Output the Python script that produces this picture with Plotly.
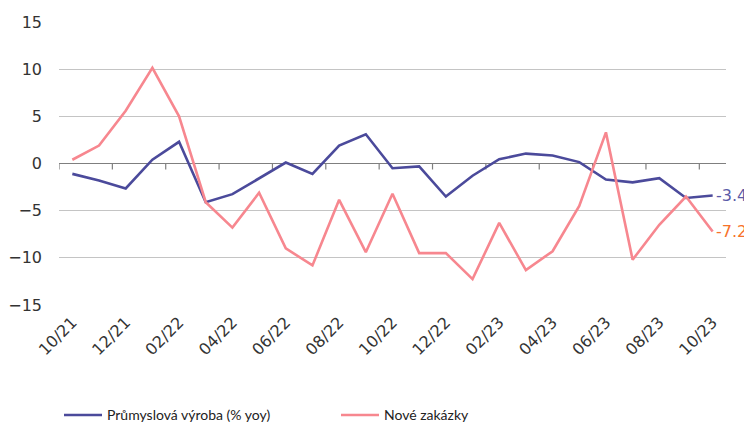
import plotly.graph_objects as go

months = ["10/21", "11/21", "12/21", "01/22", "02/22", "03/22", "04/22", "05/22", "06/22",
          "07/22", "08/22", "09/22", "10/22", "11/22", "12/22", "01/23", "02/23", "03/23",
          "04/23", "05/23", "06/23", "07/23", "08/23", "09/23", "10/23"]

vyroba = [-1.1, -1.8, -2.65, 0.4, 2.3, -4.1, -3.25, -1.6, 0.1, -1.1, 1.9, 3.1, -0.5,
          -0.3, -3.5, -1.3, 0.45, 1.05, 0.85, 0.15, -1.7, -2.0, -1.55, -3.65, -3.4]

zakazky = [0.4, 1.9, 5.6, 10.15, 5.0, -4.1, -6.8, -3.1, -9.0, -10.8, -3.85, -9.4, -3.2,
           -9.5, -9.5, -12.25, -6.3, -11.3, -9.3, -4.5, 3.3, -10.2, -6.5, -3.5, -7.2]

y_ticks = [-15, -10, -5, 0, 5, 10, 15]

names = ["Průmyslová výroba (% yoy)", "Nové zakázky"]

BLUE = "#4B4A9B"
PINK = "#F7878F"
AXIS = "#7F7F7F"

x = list(range(len(months)))

fig = go.Figure()
fig.add_trace(go.Scatter(x=x, y=vyroba, mode="lines", name=names[0],
                         line=dict(color=BLUE, width=2.6)))
fig.add_trace(go.Scatter(x=x, y=zakazky, mode="lines", name=names[1],
                         line=dict(color=PINK, width=2.6)))

# category-boundary tick marks hanging below the zero axis line (every 2nd category)
for b in [v - 0.5 for v in x[::2]]:
    fig.add_shape(type="line", xref="x", yref="y", x0=b, x1=b,
                  ysizemode="pixel", yanchor=0, y0=0, y1=-6,
                  line=dict(color=AXIS, width=1.2), layer="below")

# end-of-series value labels
fig.add_annotation(x=x[-1], y=vyroba[-1], text=f"{vyroba[-1]:.1f}", showarrow=False,
                   xanchor="left", xshift=1, font=dict(family="DejaVu Sans", size=16, color="#5B5BA8"))
fig.add_annotation(x=x[-1], y=zakazky[-1], text=f"{zakazky[-1]:.1f}", showarrow=False,
                   xanchor="left", xshift=1, font=dict(family="DejaVu Sans", size=16, color="#F7722A"))

# the page body has an 8px default margin, so the figure is 8px smaller and shifted
fig.update_layout(
    width=744, height=424,
    margin=dict(l=51, r=26, t=14, b=127, autoexpand=False),
    paper_bgcolor="white", plot_bgcolor="white",
    showlegend=True,
    legend=dict(orientation="h", x=0.0, y=-0.39, xanchor="left", yanchor="middle",
                font=dict(family="Lato", size=14, color="#222"),
                itemwidth=38, entrywidthmode="pixels", entrywidth=224),
    xaxis=dict(range=[-0.5, len(months) - 0.5], tickmode="array",
               tickvals=x[::2], ticktext=months[::2], tickangle=-45,
               showgrid=False, zeroline=False, showline=False, ticks="",
               ticklabelstandoff=4,
               tickfont=dict(family="DejaVu Sans", size=16, color="#333")),
    yaxis=dict(range=[-15, 15], tickmode="array", tickvals=y_ticks,
               showgrid=True, gridcolor="#C4C4C4", gridwidth=1,
               zeroline=True, zerolinecolor=AXIS, zerolinewidth=1.2,
               showline=False, ticks="", ticklabelstandoff=16,
               tickfont=dict(family="DejaVu Sans", size=16, color="#333")),
)

fig.write_html("out.html")
